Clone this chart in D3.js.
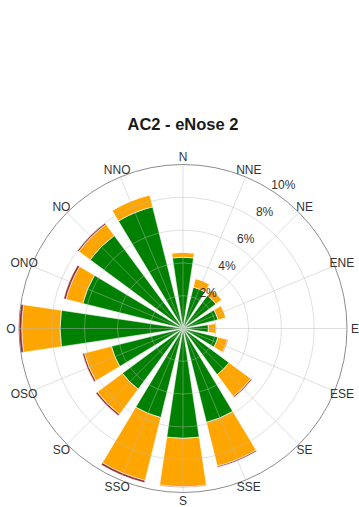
<!DOCTYPE html>
<html lang="en">
<head>
<meta charset="utf-8">
<title>AC2 - eNose 2</title>
<script src="https://d3js.org/d3.v7.min.js"></script>
<style>
  body { margin: 0; background: #fff; }
  text { font-family: "Liberation Sans", Arial, sans-serif; }
</style>
</head>
<body>
<script>
// wind directions (clockwise from north)
var directions = ["N", "NNE", "NE", "ENE", "E", "ESE", "SE", "SSE",
                  "S", "SSO", "SO", "OSO", "O", "ONO", "NO", "NNO"];

// frequency (%) per speed class, stacked outwards
var classLow  = [4.35, 2.6, 2.5, 2.2, 1.55, 2.2, 3.5, 5.9,
                 6.7, 5.6, 4.6, 4.5, 7.5, 6.3, 7.05, 7.65];
var classMid  = [0.3, 0.55, 0.45, 0.5, 0.45, 0.6, 1.65, 2.75,
                 2.95, 3.95, 1.9, 1.7, 2.33, 1.05, 0.85, 0.75];
var classHigh = [0, 0, 0, 0, 0.03, 0.05, 0.08, 0.08,
                 0.05, 0.15, 0.12, 0.12, 0.17, 0.15, 0.1, 0];

var radialTicks = [2, 4, 6, 8, 10];
var classColors = ["#008000", "#ffa500", "#993333"];

var width = 359, height = 507;
var cx = 183, cy = 328.5;

var svg = d3.select("body").append("svg")
    .attr("width", width)
    .attr("height", height);

svg.append("text")
    .attr("x", cx)
    .attr("y", 130)
    .attr("text-anchor", "middle")
    .style("font-size", "16.5px")
    .style("font-weight", "bold")
    .style("fill", "#1a1a1a")
    .text("AC2 - eNose 2");

var g = svg.append("g").attr("transform", "translate(" + cx + "," + cy + ")");

var r = d3.scaleLinear().domain([0, 10]).range([0, 164]);

var step = 2 * Math.PI / directions.length;
var half = 8.5 * Math.PI / 180;

// build stacked rows
var rows = directions.map(function(d, i) {
  return { dir: d, i: i, v: [classLow[i], classMid[i], classHigh[i]] };
});
var stack = d3.stack().keys([0, 1, 2]).value(function(d, k) { return d.v[k]; });
var layers = stack(rows);

var arc = d3.arc()
    .innerRadius(function(d) { return r(d[0]); })
    .outerRadius(function(d) { return r(d[1]); })
    .startAngle(function(d) { return d.data.i * step - half; })
    .endAngle(function(d) { return d.data.i * step + half; });

g.selectAll(".layer")
  .data(layers)
  .enter().append("g")
    .attr("class", "layer")
    .attr("fill", function(d, k) { return classColors[k]; })
  .selectAll("path")
  .data(function(d) { return d; })
  .enter().append("path")
    .attr("d", arc)
    .attr("stroke", "#fff")
    .attr("stroke-width", 0.6);

// grid on top, semi transparent
var grid = g.append("g").attr("class", "grid");

grid.selectAll(".ring")
  .data(radialTicks.slice(0, -1))
  .enter().append("circle")
    .attr("r", function(d) { return r(d); })
    .attr("fill", "none")
    .attr("stroke", "#b8b8b8")
    .attr("stroke-opacity", 0.45);

grid.selectAll(".spoke")
  .data(directions)
  .enter().append("line")
    .attr("x1", 0).attr("y1", 0)
    .attr("x2", function(d, i) { return r(10) * Math.sin(i * step); })
    .attr("y2", function(d, i) { return -r(10) * Math.cos(i * step); })
    .attr("stroke", "#b8b8b8")
    .attr("stroke-opacity", 0.45);

grid.append("circle")
    .attr("r", r(10))
    .attr("fill", "none")
    .attr("stroke", "#8c8c8c")
    .attr("stroke-width", 1);

// radial tick labels
var labAngle = 35 * Math.PI / 180;
g.selectAll(".rlab")
  .data(radialTicks)
  .enter().append("text")
    .attr("x", function(d) { return (r(d) + 11) * Math.sin(labAngle); })
    .attr("y", function(d) { return -(r(d) + 11) * Math.cos(labAngle); })
    .attr("text-anchor", "middle")
    .attr("dominant-baseline", "central")
    .style("font-size", "12px")
    .style("fill", "#333")
    .text(function(d) { return d + "%"; });

// direction labels
g.selectAll(".dlab")
  .data(directions)
  .enter().append("text")
    .attr("x", function(d, i) { return 172 * Math.sin(i * step); })
    .attr("y", function(d, i) { return -172 * Math.cos(i * step); })
    .attr("text-anchor", "middle")
    .attr("dominant-baseline", "central")
    .style("font-size", "12px")
    .style("fill", "#333")
    .text(function(d) { return d; });
</script>
</body>
</html>
